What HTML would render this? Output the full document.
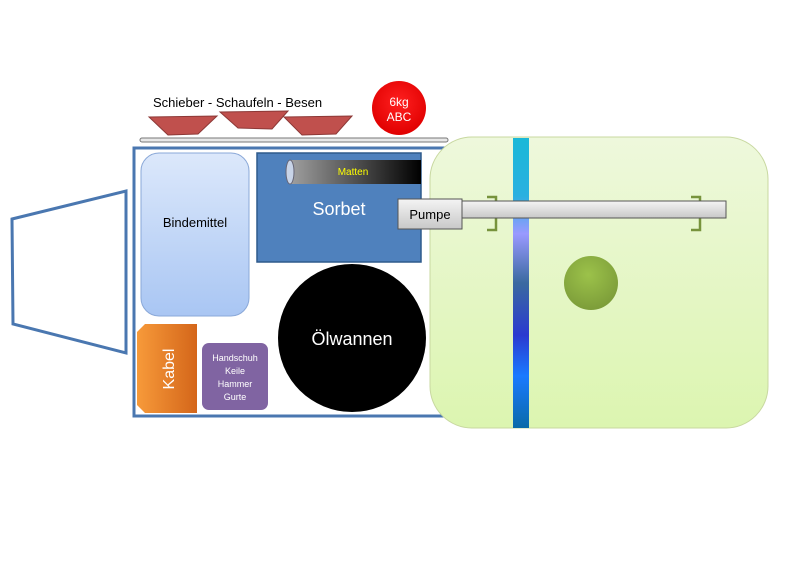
<!DOCTYPE html>
<html><head><meta charset="utf-8"><style>
html,body{margin:0;padding:0;background:#fff;width:800px;height:565px;overflow:hidden}
svg{display:block;font-family:"Liberation Sans","DejaVu Sans",sans-serif}
</style></head><body>
<svg width="800" height="565" viewBox="0 0 800 565" xmlns="http://www.w3.org/2000/svg">
<defs>
<linearGradient id="bind" x1="0" y1="0" x2="0" y2="1"><stop offset="0" stop-color="#dce8fb"/><stop offset="1" stop-color="#a9c6f3"/></linearGradient>
<linearGradient id="mat" x1="0" y1="0" x2="1" y2="0"><stop offset="0" stop-color="#a0a0a0"/><stop offset="1" stop-color="#000"/></linearGradient>
<linearGradient id="kab" x1="0" y1="0" x2="1" y2="0"><stop offset="0" stop-color="#f79a3a"/><stop offset="1" stop-color="#d4661a"/></linearGradient>
<linearGradient id="grn" x1="0" y1="0" x2="0" y2="1"><stop offset="0" stop-color="#eef8dc"/><stop offset="1" stop-color="#dcf5b0"/></linearGradient>
<linearGradient id="strip" x1="0" y1="0" x2="0" y2="1">
<stop offset="0" stop-color="#1ab8d8"/><stop offset="0.2" stop-color="#2ab0e0"/><stop offset="0.33" stop-color="#9a9aff"/><stop offset="0.5" stop-color="#3a6aa0"/><stop offset="0.68" stop-color="#2a3ad0"/><stop offset="0.82" stop-color="#1a7aff"/><stop offset="1" stop-color="#0a6aa8"/></linearGradient>
<linearGradient id="bar" x1="0" y1="0" x2="0" y2="1"><stop offset="0" stop-color="#f4f4f4"/><stop offset="1" stop-color="#c8c8c8"/></linearGradient>
<radialGradient id="gc" cx="0.45" cy="0.35" r="0.7"><stop offset="0" stop-color="#9cc24a"/><stop offset="1" stop-color="#7a9a38"/></radialGradient>
<radialGradient id="rc" cx="0.5" cy="0.4" r="0.6"><stop offset="0" stop-color="#ff2020"/><stop offset="1" stop-color="#e00000"/></radialGradient>
</defs>
<!-- left trapezoid -->
<polygon points="12,219 126,191 126,353 13,324" fill="none" stroke="#4a77b0" stroke-width="3"/>
<!-- top text -->
<text x="153" y="107" font-size="13" fill="#000">Schieber  - Schaufeln  - Besen</text>
<!-- trays -->
<polygon points="149,117 217,116 198,134 168,135" fill="#c0504d" stroke="#8c3836" stroke-width="1"/>
<polygon points="220,112 288,111 272,129 238,128" fill="#c0504d" stroke="#8c3836" stroke-width="1"/>
<polygon points="284,117 352,116 336,134 302,135" fill="#c0504d" stroke="#8c3836" stroke-width="1"/>
<!-- red circle -->
<circle cx="399" cy="108" r="27" fill="url(#rc)"/>
<text x="399" y="106" font-size="12" fill="#fff" text-anchor="middle">6kg</text>
<text x="399" y="121" font-size="12" fill="#fff" text-anchor="middle">ABC</text>
<!-- shelf bar -->
<rect x="140" y="138" width="308" height="4" fill="#e8e8e8" stroke="#777" stroke-width="1" rx="2"/>
<!-- main box -->
<rect x="134" y="148" width="320" height="268" fill="#fff" stroke="#4a77b0" stroke-width="3"/>
<!-- Bindemittel -->
<rect x="141" y="153" width="108" height="163" rx="18" fill="url(#bind)" stroke="#8aa8d8" stroke-width="1"/>
<text x="195" y="227" font-size="13" fill="#000" text-anchor="middle">Bindemittel</text>
<!-- Sorbet -->
<rect x="257" y="153" width="164" height="109" fill="#4f81bd" stroke="#2e5a8c" stroke-width="1.5"/>
<rect x="290" y="160" width="131" height="24" fill="url(#mat)"/>
<ellipse cx="290" cy="172" rx="4" ry="12" fill="#c8d4e8" stroke="#667" stroke-width="1"/>
<text x="353" y="175" font-size="10" fill="#ffff00" text-anchor="middle">Matten</text>
<text x="339" y="215" font-size="18" fill="#fff" text-anchor="middle">Sorbet</text>
<!-- Ölwannen -->
<circle cx="352" cy="338" r="74" fill="#000"/>
<text x="352" y="345" font-size="18" fill="#fff" text-anchor="middle">Ölwannen</text>
<!-- Kabel -->
<polygon points="145,324 197,324 197,413 145,413 137,405 137,332" fill="url(#kab)"/>
<text transform="translate(174,369) rotate(-90)" font-size="16" fill="#fff" text-anchor="middle">Kabel</text>
<!-- purple -->
<rect x="202" y="343" width="66" height="67" rx="7" fill="#8064a2"/>
<text x="235" y="361" font-size="9" fill="#fff" text-anchor="middle">Handschuh</text>
<text x="235" y="374" font-size="9" fill="#fff" text-anchor="middle">Keile</text>
<text x="235" y="387" font-size="9" fill="#fff" text-anchor="middle">Hammer</text>
<text x="235" y="400" font-size="9" fill="#fff" text-anchor="middle">Gurte</text>
<!-- green box -->
<rect x="430" y="137" width="338" height="291" rx="42" fill="url(#grn)" stroke="#c8d8a0" stroke-width="1"/>
<rect x="513" y="138" width="16" height="290" fill="url(#strip)"/>
<circle cx="591" cy="283" r="27" fill="url(#gc)"/>
<!-- brackets -->
<path d="M487,197 H496 V230 H487" fill="none" stroke="#77933c" stroke-width="2.5"/>
<path d="M691,197 H700 V230 H691" fill="none" stroke="#77933c" stroke-width="2.5"/>
<!-- bar -->
<rect x="458" y="201" width="268" height="17" fill="url(#bar)" stroke="#555" stroke-width="1"/>
<rect x="398" y="199" width="64" height="30" fill="url(#bar)" stroke="#555" stroke-width="1"/>
<text x="430" y="219" font-size="13" fill="#000" text-anchor="middle">Pumpe</text>
</svg>
</body></html>
